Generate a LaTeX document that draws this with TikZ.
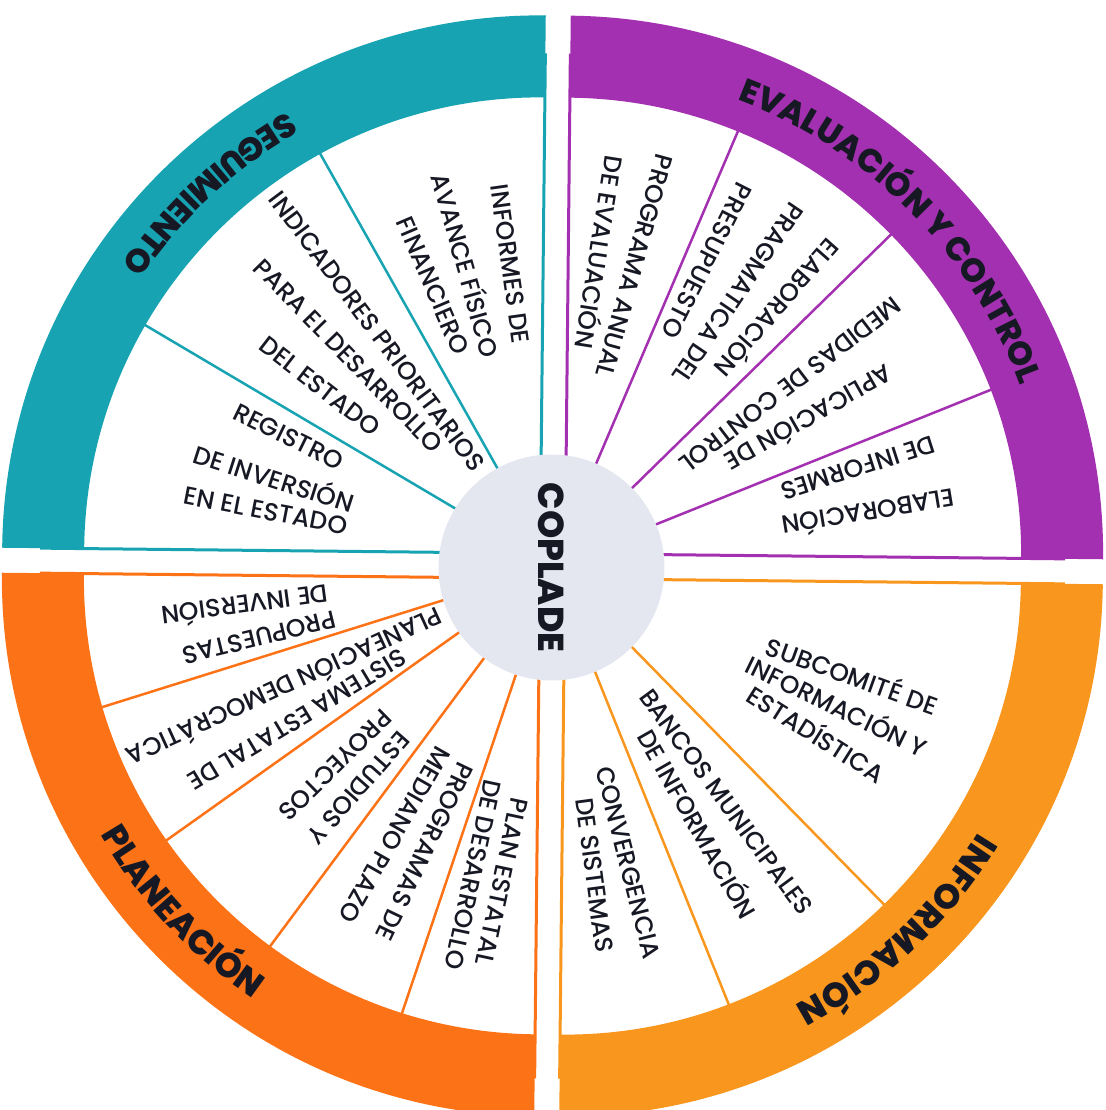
\documentclass[tikz,border=0pt]{standalone}
\usepackage{fontspec}
\setmainfont{Poppins}
\newfontfamily\itemfont{Poppins Medium}
\newfontfamily\headfont{Poppins ExtraBold}
\usetikzlibrary{decorations.text}

\definecolor{segcol}{RGB}{23,163,178}
\definecolor{evacol}{RGB}{163,48,176}
\definecolor{placol}{RGB}{252,114,22}
\definecolor{infcol}{RGB}{249,150,30}
\definecolor{hubcol}{RGB}{228,231,240}
\definecolor{inkcol}{RGB}{22,24,36}

\newcommand{\titlefont}{\fontsize{33}{33}\selectfont\headfont}
\newcommand{\titlefontb}{\fontsize{34.5}{34.5}\selectfont\headfont}

\tikzset{
  edgeline/.style={line width=3pt},
  divider/.style={line width=2.5pt},
  itemtop/.style={font=\fontsize{25}{25}\selectfont\itemfont, text=inkcol, inner sep=0pt},
  itembot/.style={itemtop},
  hub/.style={circle, fill=hubcol, minimum size=226, inner sep=0pt, text=inkcol,
    font=\fontsize{36}{36}\selectfont\headfont},
}

\begin{document}
\begin{tikzpicture}[x=1pt, y=1pt]
    \useasboundingbox (-552.5,-544) rectangle (552.5,566);
    \clip (-552.5,-544) rectangle (552.5,566);

    \begin{scope}[rotate=-0.6]
    % Dividers
    \foreach \a in {120,150}
        \draw[divider, segcol] (0,0) -- (\a:530);
    \foreach \a in {22.5,45,67.5}
        \draw[divider, evacol] (0,0) -- (\a:530);
    \foreach \a in {198,216,234,252}
        \draw[divider, placol] (0,0) -- (\a:530);
    \foreach \a in {292.5,315}
        \draw[divider, infcol] (0,0) -- (\a:530);

    % Seguimiento
    \begin{scope}[shift={(-12.5,12.5)}]
        \draw[edgeline, segcol] (90:500) -- (0,0) -- (180:500);
        \fill[segcol] (90:538) arc[start angle=90, end angle=180, radius=538]
            -- (180:456) arc[start angle=180, end angle=90, radius=456] -- cycle;
        \path[decorate, decoration={text along path, text align=center,
            text={|\titlefont\color{inkcol}|SEGUIMIENTO}}]
            (103.2:508.5) arc[start angle=103.2, end angle=163.2, radius=508.5];
    \end{scope}

    % Evaluacion y control
    \begin{scope}[shift={(12.5,12.5)}]
        \draw[edgeline, evacol] (90:500) -- (0,0) -- (0:500);
        \fill[evacol] (0:538) arc[start angle=0, end angle=90, radius=538]
            -- (90:456) arc[start angle=90, end angle=0, radius=456] -- cycle;
        \path[decorate, decoration={text along path, text align=center,
            text={|\titlefont\color{inkcol}|EVALUACIÓN Y CONTROL}}]
            (88:485.5) arc[start angle=88, end angle=2.7, radius=485.5];
    \end{scope}

    % Planeacion
    \begin{scope}[shift={(-12.5,-12.5)}]
        \draw[edgeline, placol] (180:500) -- (0,0) -- (270:500);
        \fill[placol] (180:538) arc[start angle=180, end angle=270, radius=538]
            -- (270:456) arc[start angle=270, end angle=180, radius=456] -- cycle;
        \path[decorate, decoration={text along path, text align=center,
            text={|\titlefontb\color{inkcol}|PLANEACIÓN}}]
            (193.6:509) arc[start angle=193.6, end angle=253.6, radius=509];
    \end{scope}

    % Informacion
    \begin{scope}[shift={(12.5,-12.5)}]
        \draw[edgeline, infcol] (270:500) -- (0,0) -- (360:500);
        \fill[infcol] (270:538) arc[start angle=270, end angle=360, radius=538]
            -- (360:456) arc[start angle=360, end angle=270, radius=456] -- cycle;
        \path[decorate, decoration={text along path, text align=center,
            text={|\titlefontb\color{inkcol}|INFORMACIÓN}}]
            (344:485) arc[start angle=344, end angle=284, radius=485];
    \end{scope}
    \end{scope}

    % Centre
    \node[hub, rotate=-90] (hub) at (-1,-1.5) {COPLADE};

    % Upper items, read towards the centre
    \foreach \ang/\dist/\txt [count=\i] in {
        98/305/INFORMES DE, 105.7/313/AVANCE FÍSICO, 113.1/305/FINANCIERO,
        126.8/293/INDICADORES PRIORITARIOS, 134.2/293/PARA EL DESARROLLO, 142.3/294/DEL ESTADO,
        153.9/294/REGISTRO, 162.2/292/DE INVERSIÓN, 169.1/292/EN EL ESTADO,
        74.7/311/PROGRAMA ANUAL, 81.1/317/DE EVALUACIÓN,
        48.6/342/ELABORACIÓN, 55.8/330/PRAGMATICA DEL, 63.2/342/PRESUPUESTO,
        29.6/296/APLICACIÓN DE, 37.3/299/MEDIDAS DE CONTROL,
        9.3/320/ELABORACIÓN, 17.8/321/DE INFORMES}
        \node[itemtop, rotate=\ang+180] (top-\i) at (\ang:\dist) {\txt};

    % Lower items, read away from the centre
    \foreach \ang/\rot/\dist/\txt [count=\i] in {
        193.7/193.7/302/PROPUESTAS, 187.6/187.6/310/DE INVERSIÓN,
        211.0/211.0/298/SISTEMA ESTATAL DE, 204.6/204.6/294/PLANEACIÓN DEMOCRÁTICA,
        228.9/228.7/295/ESTUDIOS Y, 222.5/224.5/295/PROYECTOS,
        245.9/244.5/313/PROGRAMAS DE, 239.6/240.3/312/MEDIANO PLAZO,
        260.9/258/320/PLAN ESTATAL, 255.6/258/319/DE DESARROLLO,
        340.2/340.2/319/SUBCOMITÉ DE, 334.1/334.1/317/INFORMACIÓN Y, 327.8/327.8/313/ESTADÍSTICA,
        306.4/306.4/293/BANCOS MUNICIPALES, 299.7/299.7/296/DE INFORMACIÓN,
        284.3/284.3/306/CONVERGENCIA, 277.7/277.7/312/DE SISTEMAS}
        \node[itembot, rotate=\rot] (bot-\i) at (\ang:\dist) {\txt};
\end{tikzpicture}
\end{document}
